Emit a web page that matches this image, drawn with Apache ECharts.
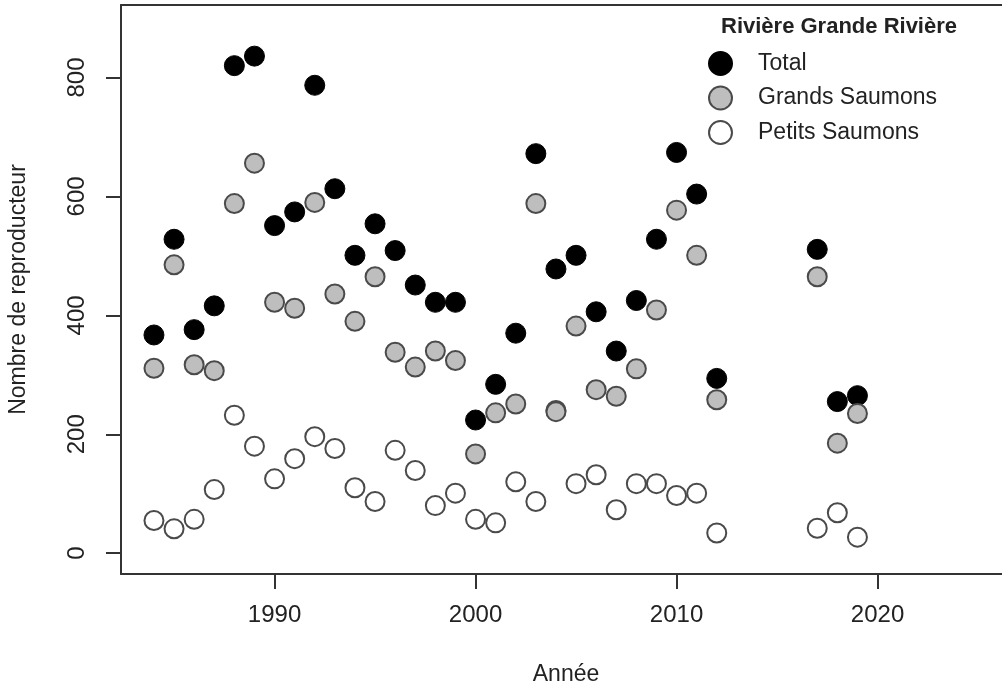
<!DOCTYPE html>
<html>
<head>
<meta charset="utf-8">
<script src="https://cdn.jsdelivr.net/npm/echarts@6/dist/echarts.min.js"></script>
<style>
  html, body { margin: 0; padding: 0; background: #fff; }
  #chart { width: 1002px; height: 692px; }
</style>
</head>
<body>
<div id="chart"></div>
<script>
// années et effectifs
const years = [1984, 1985, 1986, 1987, 1988, 1989, 1990, 1991, 1992, 1993,
  1994, 1995, 1996, 1997, 1998, 1999, 2000, 2001, 2002, 2003,
  2004, 2005, 2006, 2007, 2008, 2009, 2010, 2011, 2012, 2017, 2018, 2019];
const total = [367, 528, 376, 416, 820, 836, 551, 574, 787, 613,
  501, 554, 509, 451, 422, 422, 224, 284, 370, 672,
  478, 501, 406, 340, 425, 528, 674, 604, 294, 511, 255, 265];
const grands = [311, 485, 317, 307, 588, 656, 422, 412, 590, 436,
  390, 465, 338, 313, 340, 324, 167, 236, 251, 588,
  238, 382, 275, 264, 310, 409, 577, 501, 258, 465, 185, 235];
const petits = [55, 41, 57, 107, 232, 180, 125, 159, 196, 176,
  110, 87, 173, 139, 80, 101, 57, 51, 120, 87,
  240, 117, 132, 73, 117, 117, 97, 101, 34, 42, 68, 27];
const xTicks = [1990, 2000, 2010, 2020];
const yTicks = [0, 200, 400, 600, 800];

const FONT = '"Liberation Sans Narrow", "Liberation Sans", Arial, sans-serif';
const ink = '#222';

function pairs(vals) {
  return years.map((y, i) => [y, vals[i]]);
}

const chart = echarts.init(document.getElementById('chart'));

const axisLine = { show: true, onZero: false, lineStyle: { color: '#333', width: 2 } };

chart.setOption({
  animation: false,
  backgroundColor: '#fff',
  title: {
    text: 'Rivière Grande Rivière',
    left: 716,
    top: 11,
    textStyle: { fontFamily: FONT, fontSize: 22, fontWeight: 'bold', color: ink }
  },
  legend: {
    orient: 'vertical',
    left: 703,
    top: 46,
    itemWidth: 23,
    itemHeight: 23,
    itemGap: 9.5,
    icon: 'circle',
    data: ['Total', 'Grands Saumons', 'Petits Saumons'],
    textStyle: { fontFamily: FONT, fontSize: 23, color: ink, padding: [0, 0, 0, 21] }
  },
  grid: { left: 121, right: -9, top: 5, bottom: 118, outerBoundsMode: 'none' },
  xAxis: [{
    type: 'value',
    min: 1982.36,
    max: 2026.64,
    splitLine: { show: false },
    axisLine: axisLine,
    axisTick: { show: true, length: 15, lineStyle: { color: '#333', width: 2 }, customValues: xTicks },
    axisLabel: {
      customValues: xTicks, margin: 29, fontFamily: FONT, fontSize: 24, color: ink,
      formatter: v => String(v)
    },
    name: 'Année',
    nameLocation: 'middle',
    nameGap: 89,
    nameTextStyle: { fontFamily: FONT, fontSize: 23, color: ink }
  }, {
    type: 'value',
    position: 'top',
    min: 1982.36,
    max: 2026.64,
    splitLine: { show: false },
    axisLine: axisLine,
    axisTick: { show: false },
    axisLabel: { show: false }
  }],
  yAxis: {
    type: 'value',
    min: -35,
    max: 922,
    splitLine: { show: false },
    axisLine: axisLine,
    axisTick: { show: true, length: 15, lineStyle: { color: '#333', width: 2 }, customValues: yTicks },
    axisLabel: { customValues: yTicks, rotate: 90, margin: 32, fontFamily: FONT, fontSize: 24, color: ink },
    name: 'Nombre de reproducteur',
    nameLocation: 'middle',
    nameGap: 91,
    nameRotate: 90,
    nameTextStyle: { fontFamily: FONT, fontSize: 23, color: ink }
  },
  series: [{
    name: 'Total',
    type: 'scatter',
    data: pairs(total),
    symbol: 'circle',
    symbolSize: 20,
    itemStyle: { color: '#000', borderColor: '#000', borderWidth: 1, opacity: 1 }
  }, {
    name: 'Petits Saumons',
    type: 'scatter',
    data: pairs(petits),
    symbol: 'circle',
    symbolSize: 19,
    itemStyle: { color: '#fff', borderColor: '#4a4a4a', borderWidth: 2, opacity: 1 }
  }, {
    name: 'Grands Saumons',
    type: 'scatter',
    data: pairs(grands),
    symbol: 'circle',
    symbolSize: 19,
    itemStyle: { color: '#bebebe', borderColor: '#4a4a4a', borderWidth: 2, opacity: 1 }
  }]
});
</script>
</body>
</html>
